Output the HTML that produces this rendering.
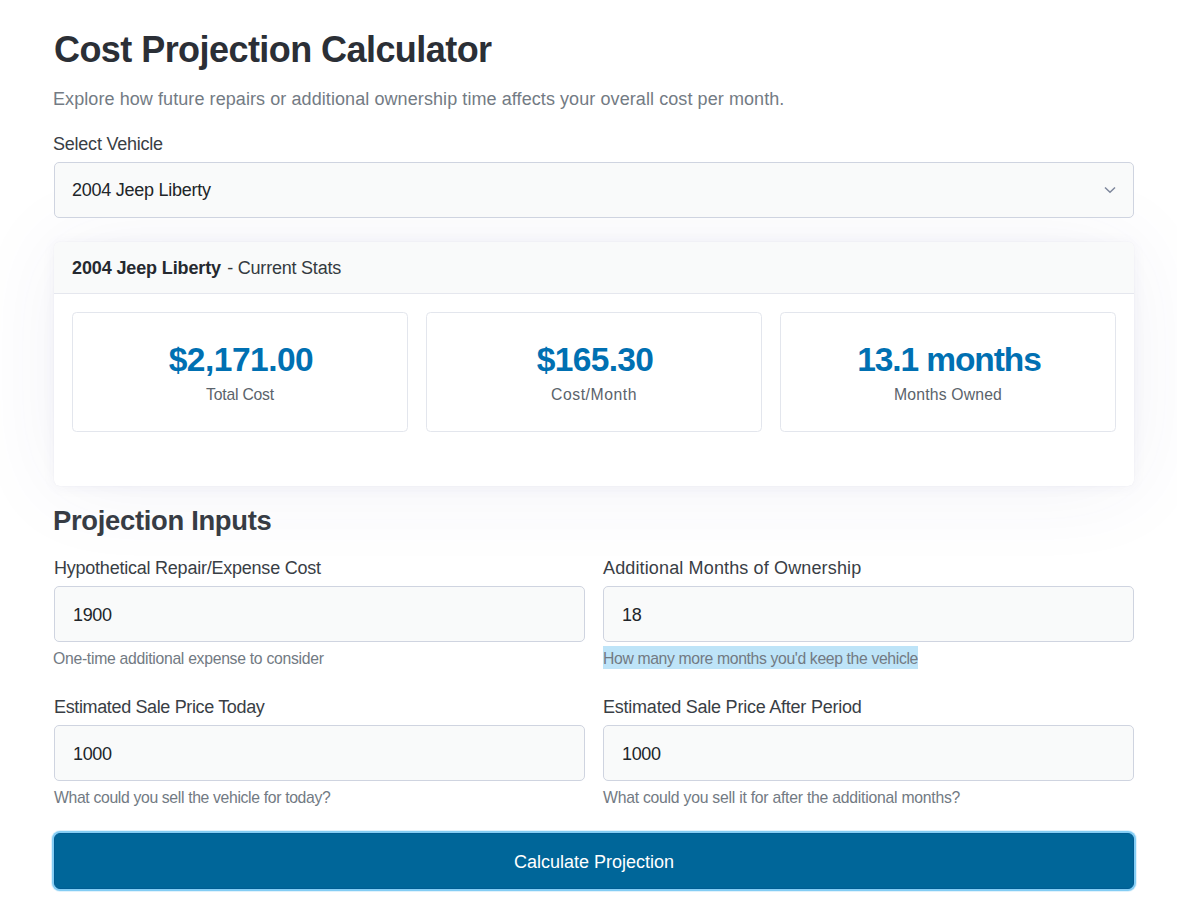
<!DOCTYPE html>
<html><head><meta charset="utf-8">
<style>
*{box-sizing:border-box;margin:0;padding:0}
html,body{width:1177px;height:901px;overflow:hidden;background:#fff}
body{font-family:"Liberation Sans",sans-serif;color:#212529;position:relative}
.t{position:absolute;white-space:nowrap;line-height:1}
#title{left:54px;top:32px;font-size:36px;font-weight:bold;color:#2b2f36;letter-spacing:-0.56px}
#lead{left:53px;top:90px;font-size:18px;color:#737b84;letter-spacing:0.08px}
.lbl{font-size:18px;color:#393e45}
.val{font-size:18px;color:#212529}
.help{font-size:15.75px;color:#727a83}
.ctl{position:absolute;background:#f9fafa;border:1px solid #cfd4e0;border-radius:5px;height:56px}
.card{position:absolute;left:54px;top:242px;width:1080px;height:244px;background:#fff;border-radius:6px;box-shadow:0 0 1px rgba(60,60,130,0.12),0 1px 14px rgba(60,60,130,0.05),0 2px 90px rgba(60,60,130,0.065)}
.chead{position:absolute;left:0;top:0;width:1080px;height:52px;background:#f9fafa;border-bottom:1px solid #e5e7ee;border-radius:6px 6px 0 0}
.stat{position:absolute;top:70px;width:336px;height:120px;border:1px solid #e3e6ed;border-radius:4.5px;background:#fff}
.sv{font-size:33.5px;font-weight:bold;color:#0070b2}
.sl{font-size:15.75px;color:#5b636b}
#h2{left:53px;top:507px;letter-spacing:-0.31px;font-size:27.4px;font-weight:bold;color:#373c44}
.btn{position:absolute;left:54px;top:833px;width:1080px;height:56px;background:#006699;border:1px solid #005c92;border-radius:6px;box-shadow:0 0 0 2px #84cdf4,0 0 0 3px rgba(132,205,244,0.25)}
.hl{position:absolute;left:603px;top:646px;width:315px;height:23px;background:#bee4f8}
</style></head><body>
<div class="card">
  <div class="chead"></div>
  <div class="stat" style="left:18px"></div>
  <div class="stat" style="left:372px"></div>
  <div class="stat" style="left:726px"></div>
</div>
<div class="t" id="title">Cost Projection Calculator</div>
<div class="t" id="lead">Explore how future repairs or additional ownership time affects your overall cost per month.</div>
<div class="t lbl" id="selLbl" style="left:53px;top:135px;letter-spacing:-0.23px">Select Vehicle</div>
<div class="ctl" style="left:54px;top:162px;width:1080px"></div>
<div class="t val" id="selVal" style="left:72px;top:181px;letter-spacing:-0.25px">2004 Jeep Liberty</div>
<svg style="position:absolute;left:1104px;top:186px" width="12" height="8" viewBox="0 0 12 8"><path d="M1 1.5 L6 6.2 L11 1.5" fill="none" stroke="#7e879c" stroke-width="1.5"/></svg>

<div class="t val" id="header" style="left:72px;top:259px;letter-spacing:-0.125px"><b style="color:#25292f">2004 Jeep Liberty</b><span style="margin-left:1.5px;letter-spacing:-0.22px;color:#343a40"> - Current Stats</span></div>
<div class="t sv" id="v1" style="left:73px;width:336px;text-align:center;top:343px;letter-spacing:-0.5px">$2,171.00</div>
<div class="t sv" id="v2" style="left:427px;width:336px;text-align:center;top:343px;letter-spacing:-0.67px">$165.30</div>
<div class="t sv" id="v3" style="left:781px;width:336px;text-align:center;top:343px;letter-spacing:-1.1px">13.1 months</div>
<div class="t sl" id="t1" style="left:72px;width:336px;text-align:center;top:387px;letter-spacing:-0.22px">Total Cost</div>
<div class="t sl" id="t2" style="left:426px;width:336px;text-align:center;top:387px;letter-spacing:0.55px">Cost/Month</div>
<div class="t sl" id="t3" style="left:780px;width:336px;text-align:center;top:387px;letter-spacing:0.18px">Months Owned</div>

<div class="t" id="h2">Projection Inputs</div>
<div class="t lbl" id="lbl1" style="left:54px;top:559px;letter-spacing:-0.23px">Hypothetical Repair/Expense Cost</div>
<div class="ctl" style="left:54px;top:586px;width:531px"></div>
<div class="t val" id="in1" style="left:73px;top:606px;letter-spacing:-0.33px">1900</div>
<div class="t help" id="help1" style="left:53px;top:651px;letter-spacing:-0.29px">One-time additional expense to consider</div>

<div class="t lbl" id="lbl2" style="left:603px;top:559px;letter-spacing:0.14px">Additional Months of Ownership</div>
<div class="ctl" style="left:603px;top:586px;width:531px"></div>
<div class="t val" id="in2" style="left:622px;top:606px;letter-spacing:-0.33px">18</div>
<div class="hl"></div>
<div class="t help" id="help2" style="left:603px;top:651px;letter-spacing:-0.36px">How many more months you'd keep the vehicle</div>

<div class="t lbl" id="lbl3" style="left:54px;top:698px;letter-spacing:-0.36px">Estimated Sale Price Today</div>
<div class="ctl" style="left:54px;top:725px;width:531px"></div>
<div class="t val" id="in3" style="left:73px;top:745px;letter-spacing:-0.33px">1000</div>
<div class="t help" id="help3" style="left:54px;top:790px;letter-spacing:-0.34px">What could you sell the vehicle for today?</div>

<div class="t lbl" id="lbl4" style="left:603px;top:698px;letter-spacing:-0.23px">Estimated Sale Price After Period</div>
<div class="ctl" style="left:603px;top:725px;width:531px"></div>
<div class="t val" id="in4" style="left:622px;top:745px;letter-spacing:-0.33px">1000</div>
<div class="t help" id="help4" style="left:603px;top:790px;letter-spacing:-0.24px">What could you sell it for after the additional months?</div>

<div class="btn"></div>
<div class="t" id="btnt" style="left:54px;width:1080px;text-align:center;top:853px;font-size:18px;color:#fff">Calculate Projection</div>
</body></html>
